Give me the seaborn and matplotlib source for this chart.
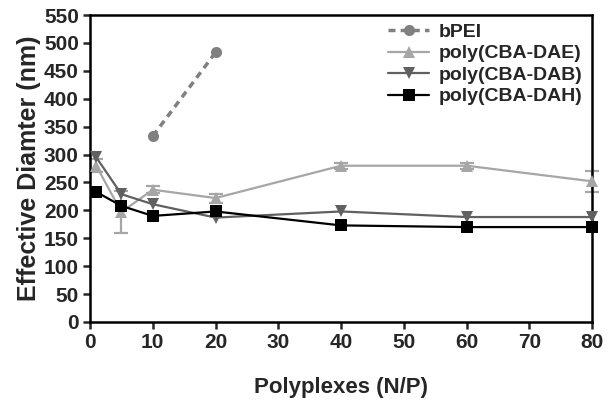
import numpy as np
import pandas as pd
import matplotlib
matplotlib.use("Agg")
import matplotlib.pyplot as plt
import seaborn as sns

# N/P ratios
np_bpei = [10, 20]
np_poly = [1, 5, 10, 20, 40, 60, 80]

# effective diameters (nm)
bpei = [333, 483]
dae = [280, 197, 237, 222, 280, 280, 252]
dae_err = [12, 37, 6, 8, 5, 5, 19]
dab = [295, 229, 211, 187, 198, 188, 188]
dah = [233, 208, 190, 198, 173, 170, 170]

sns.set_style("ticks")
plt.rcParams['font.family'] = ['Liberation Sans', 'DejaVu Sans']
plt.rcParams['font.weight'] = 'bold'

fig = plt.figure(figsize=(6.08, 4.08), dpi=100)
ax = fig.add_axes([0.148, 0.211, 0.826, 0.752])

ax.errorbar(np_poly, dae, yerr=dae_err, fmt='none', ecolor='#a6a6a6',
            elinewidth=1.6, capsize=5, capthick=1.6, zorder=2)

sns.lineplot(x=np_bpei, y=bpei, ax=ax, color='#808080', marker='o', markersize=8,
             markeredgewidth=0, linestyle=(0, (2, 1.5)), linewidth=2.5,
             label='bPEI', zorder=3)
sns.lineplot(x=np_poly, y=dae, ax=ax, color='#a6a6a6', marker='^', markersize=9,
             markeredgewidth=0, linewidth=1.6, label='poly(CBA-DAE)', zorder=3)
sns.lineplot(x=np_poly, y=dab, ax=ax, color='#606060', marker='v', markersize=9,
             markeredgewidth=0, linewidth=1.6, label='poly(CBA-DAB)', zorder=4)
sns.lineplot(x=np_poly, y=dah, ax=ax, color='#000000', marker='s', markersize=8,
             markeredgewidth=0, linewidth=1.6, label='poly(CBA-DAH)', zorder=5)

for ln in ax.lines:
    ln.set_clip_on(False)

ax.set_xlim(0, 80)
ax.set_ylim(0, 550)
ax.set_xticks(np.arange(0, 81, 10))
ax.set_yticks(np.arange(0, 551, 50))
ax.tick_params(axis='both', labelsize=15, width=1.8, length=5, direction='out', pad=3)
for s in ax.spines.values():
    s.set_linewidth(1.8)
    s.set_color('black')

ax.set_xlabel('Polyplexes (N/P)', fontsize=16, fontweight='bold', labelpad=18)
ax.set_ylabel('Effective Diamter (nm)', fontsize=18, fontweight='bold', labelpad=2)

leg = ax.legend(loc='upper right', frameon=False, fontsize=14, handlelength=2.1,
                borderaxespad=0.1, labelspacing=0.2, handletextpad=0.5,
                bbox_to_anchor=(1.0, 1.005))
for t in leg.get_texts():
    t.set_fontweight('bold')

fig.savefig('out.png', dpi=100)
